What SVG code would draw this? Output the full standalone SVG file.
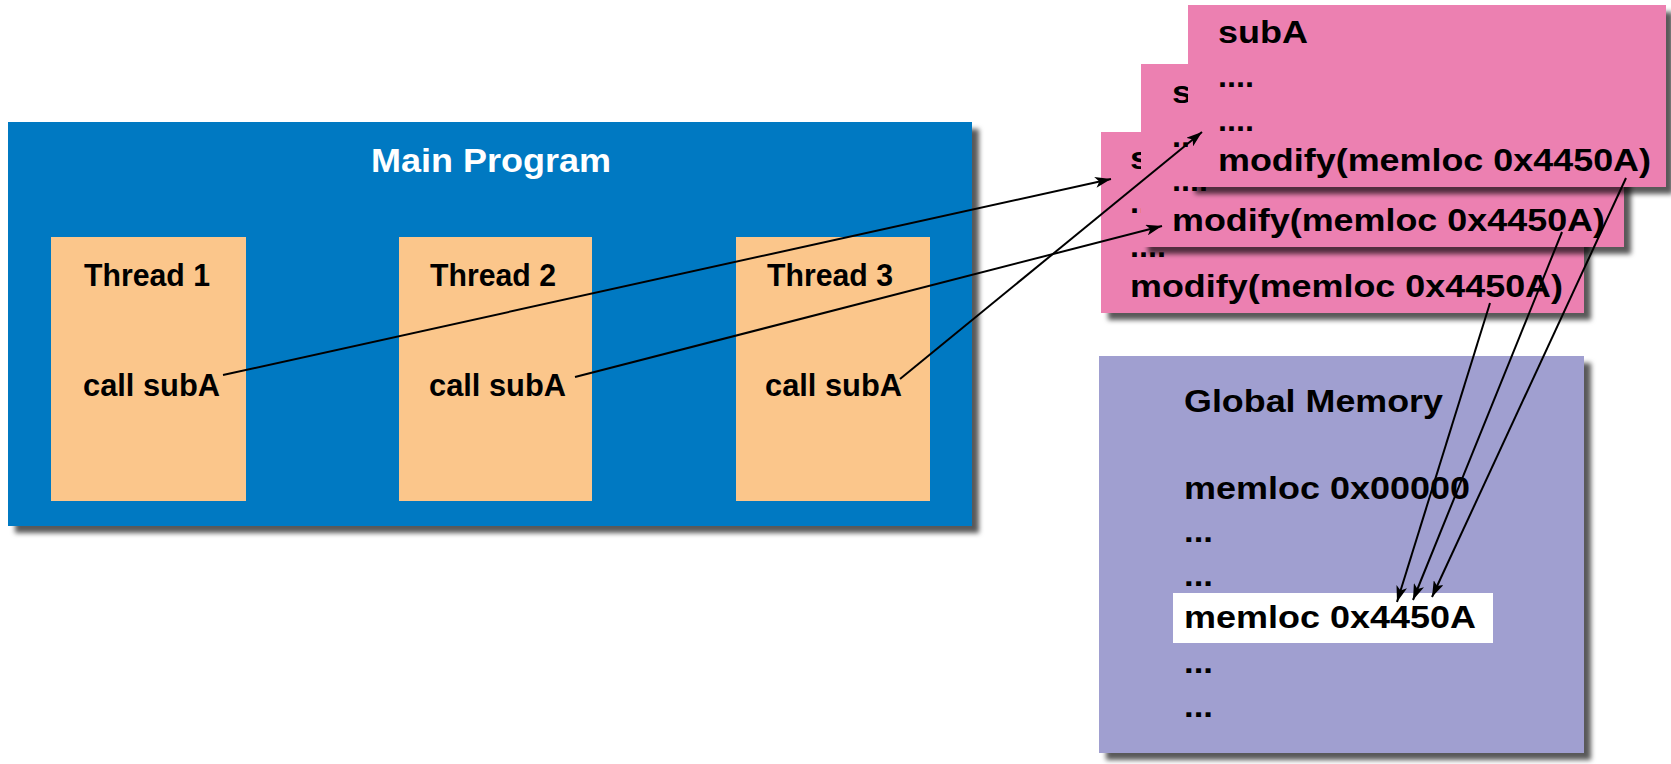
<svg xmlns="http://www.w3.org/2000/svg" width="1671" height="764" viewBox="0 0 1671 764">
<defs>
<style>
.t{font-family:"Liberation Sans",Arial,sans-serif;font-weight:bold;fill:#000;}
.w{fill:#fff;}
.main{fill:#0079C2;}
.thr{fill:#FBC68B;}
.pink{fill:#EC80B1;}
.mem{fill:#A09FD0;}
.conn{stroke:#000;stroke-width:2;fill:none;marker-end:url(#ah);}
</style>
<filter id="sh" x="-5%" y="-5%" width="115%" height="115%">
<feDropShadow dx="7" dy="7" stdDeviation="2.5" flood-color="#000" flood-opacity="0.65"/>
</filter>
<clipPath id="clipMid">
<path clip-rule="evenodd" d="M0,0 H1671 V764 H0 Z M1188,5 H1666 V187 H1188 Z"/>
</clipPath>
<clipPath id="clipBack">
<path clip-rule="evenodd" d="M0,0 H1671 V764 H0 Z M1141,5 H1666 V247 H1141 Z"/>
</clipPath>
<marker id="ah" markerUnits="userSpaceOnUse" markerWidth="17" markerHeight="11" refX="16" refY="5.5" orient="auto">
<path d="M0,0 L16,5.5 L0,11 L4,5.5 z" fill="#000"/>
</marker>
</defs>
<rect width="1671" height="764" fill="#fff"/>

<g id="main-program">
<rect class="main" x="8" y="122" width="964" height="404" filter="url(#sh)"/>
<text class="t w" x="371" y="172" font-size="34" textLength="240" lengthAdjust="spacingAndGlyphs">Main Program</text>
</g>

<g id="thread1">
<rect class="thr" x="51" y="237" width="195" height="264"/>
<text class="t" x="84" y="286" font-size="31" textLength="126" lengthAdjust="spacingAndGlyphs">Thread 1</text>
<text class="t" x="83" y="396" font-size="31" textLength="137" lengthAdjust="spacingAndGlyphs">call subA</text>
</g>
<g id="thread2">
<rect class="thr" x="399" y="237" width="193" height="264"/>
<text class="t" x="430" y="286" font-size="31" textLength="126" lengthAdjust="spacingAndGlyphs">Thread 2</text>
<text class="t" x="429" y="396" font-size="31" textLength="137" lengthAdjust="spacingAndGlyphs">call subA</text>
</g>
<g id="thread3">
<rect class="thr" x="736" y="237" width="194" height="264"/>
<text class="t" x="767" y="286" font-size="31" textLength="126" lengthAdjust="spacingAndGlyphs">Thread 3</text>
<text class="t" x="765" y="396" font-size="31" textLength="137" lengthAdjust="spacingAndGlyphs">call subA</text>
</g>

<g id="subA-back">
<rect class="pink" x="1101" y="132" width="483" height="181" filter="url(#sh)"/>
<g clip-path="url(#clipBack)">
<text class="t" x="1130" y="169" font-size="31" textLength="90" lengthAdjust="spacingAndGlyphs">subA</text>
<text class="t" x="1130" y="213" font-size="31" textLength="36" lengthAdjust="spacingAndGlyphs">....</text>
</g>
<text class="t" x="1130" y="257" font-size="31" textLength="36" lengthAdjust="spacingAndGlyphs">....</text>
<text class="t" x="1130" y="297" font-size="31" textLength="433" lengthAdjust="spacingAndGlyphs">modify(memloc 0x4450A)</text>
</g>
<g id="subA-middle">
<rect class="pink" x="1141" y="64" width="483" height="183" filter="url(#sh)"/>
<g clip-path="url(#clipMid)">
<text class="t" x="1172" y="103" font-size="31" textLength="90" lengthAdjust="spacingAndGlyphs">subA</text>
<text class="t" x="1172" y="147" font-size="31" textLength="36" lengthAdjust="spacingAndGlyphs">....</text>
</g>
<text class="t" x="1172" y="191" font-size="31" textLength="36" lengthAdjust="spacingAndGlyphs">....</text>
<text class="t" x="1172" y="231" font-size="31" textLength="433" lengthAdjust="spacingAndGlyphs">modify(memloc 0x4450A)</text>
</g>
<g id="subA-front">
<rect class="pink" x="1188" y="5" width="478" height="182" filter="url(#sh)"/>
<text class="t" x="1218" y="43" font-size="31" textLength="90" lengthAdjust="spacingAndGlyphs">subA</text>
<text class="t" x="1218" y="87" font-size="31" textLength="36" lengthAdjust="spacingAndGlyphs">....</text>
<text class="t" x="1218" y="131" font-size="31" textLength="36" lengthAdjust="spacingAndGlyphs">....</text>
<text class="t" x="1218" y="171" font-size="31" textLength="433" lengthAdjust="spacingAndGlyphs">modify(memloc 0x4450A)</text>
</g>

<g id="global-memory">
<rect class="mem" x="1099" y="356" width="485" height="397" filter="url(#sh)"/>
<rect x="1173" y="593" width="320" height="50" fill="#fff"/>
<text class="t" x="1184" y="412" font-size="31" textLength="259" lengthAdjust="spacingAndGlyphs">Global Memory</text>
<text class="t" x="1184" y="499" font-size="31" textLength="286" lengthAdjust="spacingAndGlyphs">memloc 0x00000</text>
<text class="t" x="1184" y="542" font-size="31" textLength="29" lengthAdjust="spacingAndGlyphs">...</text>
<text class="t" x="1184" y="586" font-size="31" textLength="29" lengthAdjust="spacingAndGlyphs">...</text>
<text class="t" x="1184" y="628" font-size="31" textLength="292" lengthAdjust="spacingAndGlyphs">memloc 0x4450A</text>
<text class="t" x="1184" y="673" font-size="31" textLength="29" lengthAdjust="spacingAndGlyphs">...</text>
<text class="t" x="1184" y="717" font-size="31" textLength="29" lengthAdjust="spacingAndGlyphs">...</text>
</g>

<g id="connectors">
<line class="conn" x1="223" y1="375" x2="1111" y2="179"/>
<line class="conn" x1="575" y1="377" x2="1162" y2="226"/>
<line class="conn" x1="900" y1="379" x2="1202" y2="132"/>
<line class="conn" x1="1490" y1="303" x2="1397" y2="602"/>
<line class="conn" x1="1562" y1="232" x2="1413" y2="600"/>
<line class="conn" x1="1626" y1="178" x2="1432" y2="597"/>
</g>
</svg>
